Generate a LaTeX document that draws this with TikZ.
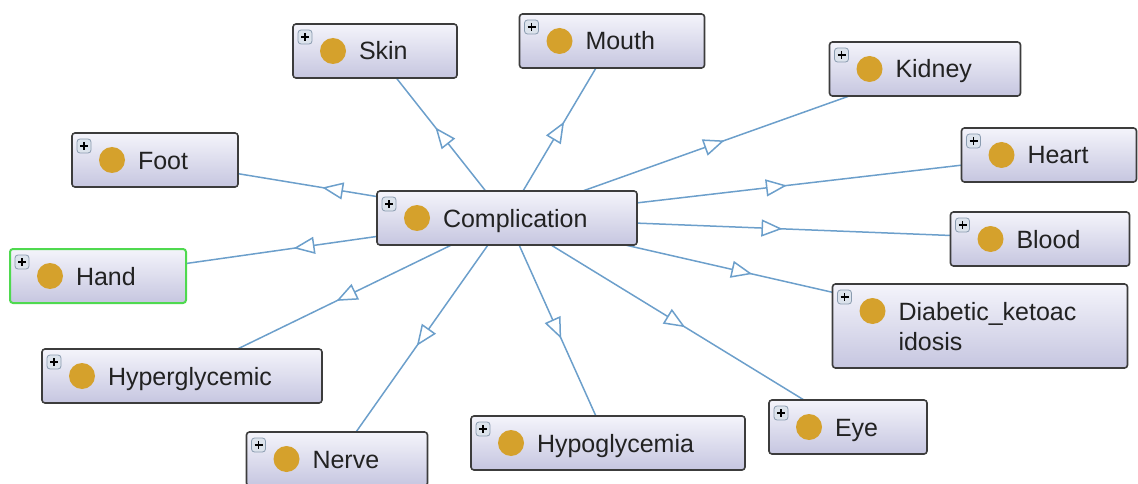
\documentclass[tikz,border=0pt]{standalone}
\usepackage{fontspec}
\newfontfamily\clsfont{Liberation Sans}
\usepackage{tikz}
\usetikzlibrary{arrows.meta,decorations.markings,backgrounds,positioning}
\definecolor{edgeblue}{HTML}{6C9FCB}
\definecolor{boxtop}{HTML}{F4F4FB}
\definecolor{boxbot}{HTML}{C6C6E0}
\definecolor{boxline}{HTML}{3C3C3C}
\definecolor{handgreen}{HTML}{4FD94F}
\definecolor{dotorange}{HTML}{D5A12C}
\definecolor{plusfill}{HTML}{DCE3EC}
\definecolor{plusframe}{HTML}{8A9CB0}
\definecolor{textgray}{HTML}{222222}

\begin{document}
\begin{tikzpicture}[x=1pt,y=-1pt]
  \tikzstyle{cls} = [rectangle,rounded corners=3pt,draw=boxline,line width=1.6pt,
    top color=boxtop,bottom color=boxbot,minimum height=54pt,inner xsep=10pt,inner ysep=0pt,
    align=left,text=textgray,font=\clsfont\fontsize{25}{30}\selectfont,text height=21pt,text depth=3pt,
    path picture={
      \fill[dotorange] ([xshift=40pt,yshift=-27pt]path picture bounding box.north west) circle (13pt);
      \draw[draw=plusframe,fill=plusfill,line width=0.8pt] ([xshift=5pt,yshift=-6pt]path picture bounding box.north west) rectangle ++(14pt,-14pt);
      \draw[black,line width=1.5pt] ([xshift=8pt,yshift=-13pt]path picture bounding box.north west) -- ++(8pt,0pt);
      \draw[black,line width=1.5pt] ([xshift=12pt,yshift=-9pt]path picture bounding box.north west) -- ++(0pt,-8pt);
    }]
  \tikzstyle{isa} = [draw=edgeblue,line width=1.5pt,
    decoration={markings,mark=at position 0.5 with {\arrow[xshift=9pt]{Triangle[fill=white,length=21pt,width=17pt,line width=1.5pt]}}},
    postaction={decorate}]

  \useasboundingbox (0,0) rectangle (1138,484);
  \clip (0,0) rectangle (1138,484);

  \node[cls,text width=240pt] (Complication) at (507,218) {\hspace*{56pt}Complication};

  \node[cls,text width=144pt] (Skin) at (375,51) {\hspace*{56pt}Skin};
  \node[cls,text width=165pt] (Mouth) at (612,41) {\hspace*{56pt}Mouth};
  \node[cls,text width=171pt] (Kidney) at (925,69) {\hspace*{56pt}Kidney};
  \node[cls,text width=146pt] (Foot) at (155,160) {\hspace*{56pt}Foot};
  \node[cls,text width=155pt] (Heart) at (1049,155) {\hspace*{56pt}Heart};
  \node[cls,text width=159pt] (Blood) at (1040,239) {\hspace*{56pt}Blood};
  \node[cls,draw=handgreen,line width=2pt,text width=156pt] (Hand) at (98,276) {\hspace*{56pt}Hand};
  \node[cls,text width=275pt,minimum height=84pt,text depth=33pt] (Diabetic) at (980,326)
    {\hspace*{56pt}Diabetic\_ketoac\\\hspace*{56pt}idosis};
  \node[cls,text width=260pt] (Hyperglycemic) at (182,376) {\hspace*{56pt}Hyperglycemic};
  \node[cls,text width=138pt] (Eye) at (848,427) {\hspace*{56pt}Eye};
  \node[cls,text width=254pt] (Hypoglycemia) at (608,443) {\hspace*{56pt}Hypoglycemia};
  \node[cls,text width=161pt] (Nerve) at (337,459) {\hspace*{56pt}Nerve};

  % edges run centre to centre, the boxes hide the ends
  \begin{scope}[on background layer]
  \draw[isa] (Complication.center) -- (Skin.center);
  \draw[isa] (Complication.center) -- (Mouth.center);
  \draw[isa] (Complication.center) -- (Kidney.center);
  \draw[isa] (Complication.center) -- (Foot.center);
  \draw[isa] (Complication.center) -- (Heart.center);
  \draw[isa] (Complication.center) -- (Blood.center);
  \draw[isa] (Complication.center) -- (Hand.center);
  \draw[isa] (Complication.center) -- (Diabetic.center);
  \draw[isa] (Complication.center) -- (Hyperglycemic.center);
  \draw[isa] (Complication.center) -- (Eye.center);
  \draw[isa] (Complication.center) -- (Hypoglycemia.center);
  \draw[isa] (Complication.center) -- (Nerve.center);
  \end{scope}
\end{tikzpicture}
\end{document}
